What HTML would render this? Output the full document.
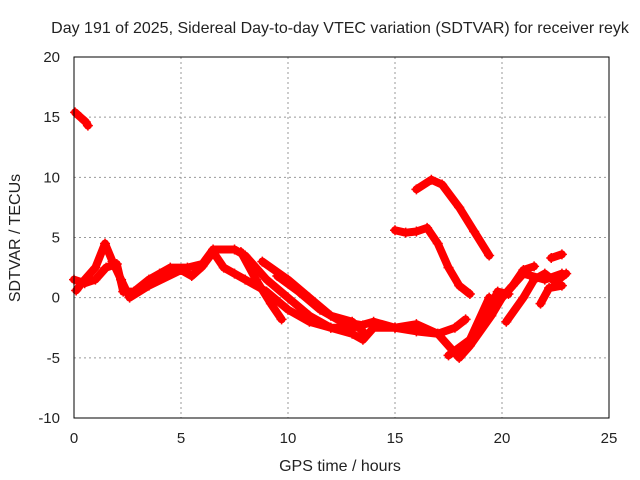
<!DOCTYPE html>
<html><head><meta charset="utf-8"><style>
body{margin:0;background:#fff}
svg{display:block;font-family:"Liberation Sans",sans-serif;font-size:15px}
</style></head><body>
<svg id="chart" width="640" height="480" viewBox="0 0 640 480">
<text x="340" y="33" text-anchor="middle" fill="#222" font-size="16">Day 191 of 2025, Sidereal Day-to-day VTEC variation (SDTVAR) for receiver reyk</text>
<g id="grid"></g>
<g id="marks"></g>
<rect x="74" y="57" width="535" height="361" fill="none" stroke="#000" stroke-width="1"/>
<g id="ticks"></g>
<text x="340" y="471" text-anchor="middle" fill="#222" font-size="16">GPS time / hours</text>
<text transform="translate(20,238) rotate(-90)" text-anchor="middle" fill="#222" font-size="16">SDTVAR / TECUs</text>
</svg>
<script>
const xTicks=[0,5,10,15,20,25];
const yTicks=[-10,-5,0,5,10,15,20];
const seg1=[[0.05,15.4],[0.3,15],[0.55,14.6],[0.65,14.3]];
const seg2=[[0,1.5],[0.5,1.2],[1,1.5],[1.5,2.5],[2,2.8],[2.3,0.5],[2.8,0.5],[3.5,1.5],[4,2],[4.5,2.5],[5.3,2.5],[6,2.8],[6.5,4],[7.5,4],[8,3.5],[9,1.5],[10,0],[11,-1.5],[12,-2.5],[13,-3],[13.5,-3.5],[14,-2.5],[15,-2.5],[16,-2.2],[17,-3],[18,-5],[18.5,-4],[19.5,-1.5],[20,0],[20.5,1],[21,2],[22,1.5],[22.8,2]];
const seg3=[[0.1,0.6],[0.5,1.5],[1,2.5],[1.45,4.5],[1.8,3],[2.2,1.5],[2.6,0],[3.5,1],[5,2.3],[5.5,1.8],[6,2.6],[6.5,3.8],[7,2.5],[7.5,2],[8,1.5],[9,0.5],[10,-1],[11,-2],[12,-2.5],[13,-2.5],[14,-2],[15,-2.5],[16,-2.8],[17,-3],[17.8,-2.5],[18.3,-1.8]];
const seg4=[[7.8,3.8],[8.5,1.5],[9.2,-0.5],[9.7,-1.8]];
const seg5=[[8.8,3],[10,1.5],[11,0],[12,-1.5],[13,-2],[13.5,-2.8]];
const seg6=[[9.5,1.8],[10.5,0.5],[11.5,-1],[12.5,-2],[13.5,-2.3]];
const seg7=[[15,5.6],[15.5,5.4],[16,5.5],[16.5,5.8],[17,4.5],[17.5,2.5],[18,1],[18.5,0.3]];
const seg8=[[16,9],[16.7,9.8],[17.2,9.4],[18,7.5],[18.7,5.5],[19.4,3.5]];
const seg9=[[17.5,-4.8],[18.5,-3.5],[19.4,0]];
const seg10=[[18,-4.5],[19,-2.5],[19.8,0.5],[20.3,0.3]];
const seg11=[[20.2,-2],[21,0],[21.5,1.5],[22,2],[22.5,1.3],[23,2]];
const seg12=[[19.5,-1],[20.5,1],[21,2.3],[21.5,2.6]];
const seg13=[[22.3,3.3],[22.8,3.6]];
const seg14=[[21.8,-0.5],[22.2,0.8],[22.8,1]];
const series=[seg1,seg2,seg3,seg4,seg5,seg6,seg7,seg8,seg9,seg10,seg11,seg12,seg13,seg14];
const NS='http://www.w3.org/2000/svg';
const X=h=>74+h*535/25;
const Y=v=>418-(v+10)*361/30;
const grid=document.getElementById('grid'),ticks=document.getElementById('ticks'),marks=document.getElementById('marks');
function mk(t,a,p){const e=document.createElementNS(NS,t);for(const k in a)e.setAttribute(k,a[k]);p.appendChild(e);return e;}
xTicks.forEach(t=>{
 if(t>0&&t<25){const g=mk('line',{x1:X(t),x2:X(t),y1:57,y2:418,stroke:'#999','stroke-dasharray':'2,3'},grid);
 
 }
 const l=mk('text',{x:X(t),y:443,'text-anchor':'middle',fill:'#222'},ticks);l.textContent=t;
 
 
});
yTicks.forEach(t=>{
 if(t>-10&&t<20){const g=mk('line',{x1:74,x2:609,y1:Y(t),y2:Y(t),stroke:'#999','stroke-dasharray':'2,3'},grid);
 
 }
 const l=mk('text',{x:60,y:Y(t)+5,'text-anchor':'end',fill:'#222'},ticks);l.textContent=t;
 
 
});
series.forEach(s=>{
 const p=mk('polyline',{points:s.map(d=>X(d[0])+','+Y(d[1])).join(' '),fill:'none',stroke:'#f00','stroke-width':8,'stroke-linejoin':'round','stroke-linecap':'round'},marks);
 
 
 s.forEach(d=>{const c=mk('path',{d:`M${X(d[0])-5},${Y(d[1])}h10M${X(d[0])},${Y(d[1])-5}v10`,stroke:'#f00','stroke-width':1.5},marks);
 
 });
});
</script>
</body></html>
